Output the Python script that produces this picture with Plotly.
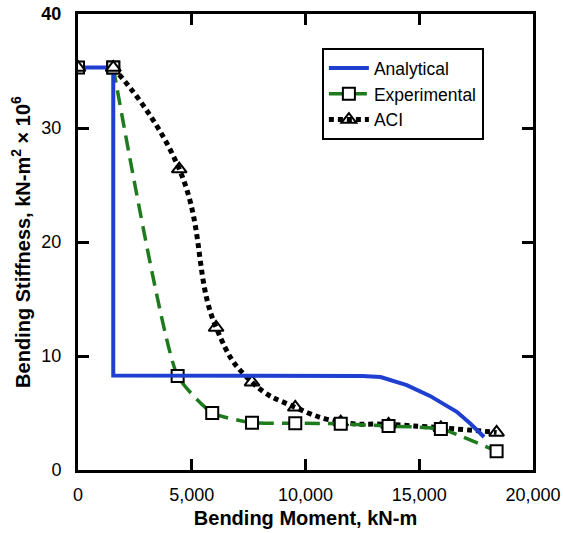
import plotly.graph_objects as go

# ---- data ----
analytical_x = [0, 1550, 1550, 12500, 13300, 14450, 15470, 16650, 17230, 17850]
analytical_y = [35.3, 35.3, 8.3, 8.25, 8.15, 7.45, 6.5, 5.1, 4.1, 2.9]

experimental_x = [0, 1550, 4380, 5900, 7650, 9550, 11550, 13650, 15950, 18400]
experimental_y = [35.3, 35.3, 8.25, 5.0, 4.15, 4.1, 4.05, 3.85, 3.6, 1.65]

aci_x = [0, 1550, 4450, 6070, 7650, 9550, 11550, 13650, 15950, 18400]
aci_y = [35.3, 35.3, 26.4, 12.5, 7.7, 5.5, 4.2, 4.0, 3.7, 3.3]

x_ticks = [0, 5000, 10000, 15000, 20000]
x_tick_labels = ["0", "5,000", "10,000", "15,000", "20,000"]
y_ticks = [0, 10, 20, 30, 40]
y_tick_labels = ["0", "10", "20", "30", "<b>40</b>"]

FONT = "Arial, Liberation Sans, sans-serif"

aci_marker = dict(symbol="triangle-up-open", size=13, color="black", line=dict(width=2))
exp_marker = dict(symbol="square", size=12, color="white", line=dict(width=2, color="black"))

fig = go.Figure()
# ACI: curve from the cracking point on, plus the first point as a marker
fig.add_trace(go.Scatter(
    x=aci_x[1:], y=aci_y[1:], name="ACI", mode="lines+markers",
    line=dict(color="black", width=5, dash="5px,4px", shape="spline", smoothing=1.3),
    marker=aci_marker,
))
fig.add_trace(go.Scatter(
    x=experimental_x[1:], y=experimental_y[1:], name="Experimental", mode="lines+markers",
    line=dict(color="#1d7a1d", width=3.5, dash="15px,8px", shape="spline", smoothing=0.5),
    marker=exp_marker,
))
fig.add_trace(go.Scatter(
    x=analytical_x, y=analytical_y, name="Analytical", mode="lines",
    line=dict(color="#1e3fd0", width=4),
))
# start markers drawn on top of the blue line
fig.add_trace(go.Scatter(
    x=experimental_x[:2], y=experimental_y[:2], mode="markers", showlegend=False, marker=exp_marker,
))
fig.add_trace(go.Scatter(
    x=aci_x[:2], y=aci_y[:2], mode="markers", showlegend=False, marker=aci_marker,
))

fig.update_layout(
    width=563, height=533,
    margin=dict(l=78, r=30, t=14, b=63),
    paper_bgcolor="white", plot_bgcolor="white",
    font=dict(family=FONT, size=18, color="black"),
    showlegend=True,
    legend=dict(
        x=0.536, y=0.925, xanchor="left", yanchor="top",
        bgcolor="white", bordercolor="black", borderwidth=2,
        font=dict(size=17.5), traceorder="reversed",
        tracegroupgap=0, itemwidth=40,
    ),
    xaxis=dict(
        range=[0, 20000], tickvals=x_ticks, ticktext=x_tick_labels,
        showgrid=False, zeroline=False, automargin=False,
        showline=True, linecolor="black", linewidth=3, mirror="allticks",
        ticks="inside", ticklen=11, tickwidth=3, tickcolor="black",
        ticklabelstandoff=6, ticklabeloverflow="allow",
        title=dict(text="<b>Bending Moment, kN-m</b>", font=dict(size=20), standoff=8),
    ),
    yaxis=dict(
        range=[0, 40], tickvals=y_ticks, ticktext=y_tick_labels,
        showgrid=False, zeroline=False, automargin=False,
        showline=True, linecolor="black", linewidth=3, mirror="allticks",
        ticks="inside", ticklen=11, tickwidth=3, tickcolor="black",
        ticklabelstandoff=10, ticklabeloverflow="allow",
        title=dict(text="<b>Bending Stiffness, kN-m<sup>2</sup> × 10<sup>6</sup></b>",
                   font=dict(size=20), standoff=6),
    ),
)

# remove the browser's default 8px body margin so the figure fills the window exactly
fig.write_html("out.html", config={"displayModeBar": False},
               post_script="document.body.style.margin='0';document.body.style.overflow='hidden';")
